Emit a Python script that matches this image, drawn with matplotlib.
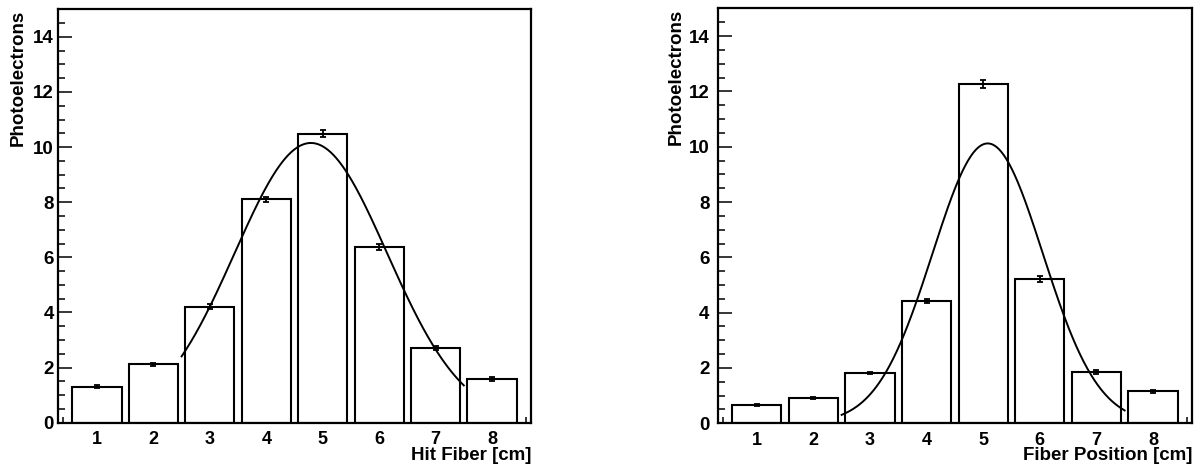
import numpy as np
import matplotlib
matplotlib.use("Agg")
import matplotlib.pyplot as plt
from matplotlib.ticker import MultipleLocator

plt.rcParams['font.family'] = ['Liberation Sans', 'DejaVu Sans']
plt.rcParams['font.weight'] = 'bold'

# -----------------------------
# Data
# -----------------------------
fibers = [1, 2, 3, 4, 5, 6, 7, 8]

hit_pe = [1.31, 2.12, 4.21, 8.10, 10.49, 6.37, 2.72, 1.58]
hit_err = [0.06, 0.06, 0.08, 0.10, 0.12, 0.11, 0.07, 0.07]

pos_pe = [0.67, 0.92, 1.82, 4.42, 12.28, 5.22, 1.85, 1.16]
pos_err = [0.04, 0.04, 0.05, 0.07, 0.14, 0.11, 0.08, 0.06]

# gaussian fit parameters (amplitude, mean, sigma) and fit range
hit_fit = (10.15, 4.79, 1.35)
pos_fit = (10.12, 5.08, 0.975)
fit_range = (2.5, 7.5)

x_titles = ["Hit Fiber [cm]", "Fiber Position [cm]"]


def gauss(x, a, mu, s):
    return a * np.exp(-(x - mu) ** 2 / (2 * s ** 2))


fig = plt.figure(figsize=(11.94, 4.70), dpi=100)
ax_l = fig.add_axes([0.0486, 0.1006, 0.3961, 0.8796])
ax_r = fig.add_axes([0.6011, 0.0994, 0.3972, 0.8826])

panels = [
    (ax_l, hit_pe, hit_err, hit_fit, x_titles[0], 3, -0.066),
    (ax_r, pos_pe, pos_err, pos_fit, x_titles[1], 6, -0.069),
]

for ax, pe, err, fit, xt, ypad, ylab_x in panels:
    ax.bar(fibers, pe, width=0.87, facecolor='white', edgecolor='black',
           linewidth=1.5, zorder=2)
    ax.errorbar(fibers, pe, yerr=err, fmt='none', ecolor='black',
                elinewidth=1.3, capsize=2.3, capthick=1.3, zorder=3)

    # fit curve
    xf = np.linspace(fit_range[0], fit_range[1], 300)
    ax.plot(xf, gauss(xf, *fit), color='black', linewidth=1.4, zorder=4)

    ax.set_xlim(0.31, 8.69)
    ax.set_ylim(0, 15)

    ax.xaxis.set_major_locator(MultipleLocator(1))
    ax.xaxis.set_minor_locator(MultipleLocator(0.2))
    ax.yaxis.set_major_locator(MultipleLocator(2))
    ax.yaxis.set_minor_locator(MultipleLocator(0.5))

    ax.tick_params(axis='x', which='major', direction='in', length=8,
                   width=1.1, labelsize=13, pad=6)
    ax.tick_params(axis='x', which='minor', direction='in', length=4,
                   width=1.1)
    ax.tick_params(axis='y', which='major', direction='in', length=10,
                   width=1.1, labelsize=13.5, pad=ypad)
    ax.tick_params(axis='y', which='minor', direction='in', length=5,
                   width=1.1)
    ax.tick_params(top=False, right=False, which='both')

    for sp in ax.spines.values():
        sp.set_linewidth(1.6)

    ax.set_xticks(fibers)
    ax.set_xticklabels([str(f) for f in fibers], fontweight='bold')
    ax.set_yticks(range(0, 15, 2))
    ax.set_yticklabels([str(v) for v in range(0, 15, 2)], fontweight='bold')

    ax.set_xlabel(xt, fontsize=13.5, fontweight='bold', loc='right')
    ax.xaxis.set_label_coords(1.0, -0.058)
    ax.set_ylabel("Photoelectrons", fontsize=13.5, fontweight='bold',
                  loc='top')
    ax.yaxis.set_label_coords(ylab_x, 1.0)

fig.savefig("out.png", dpi=100)
